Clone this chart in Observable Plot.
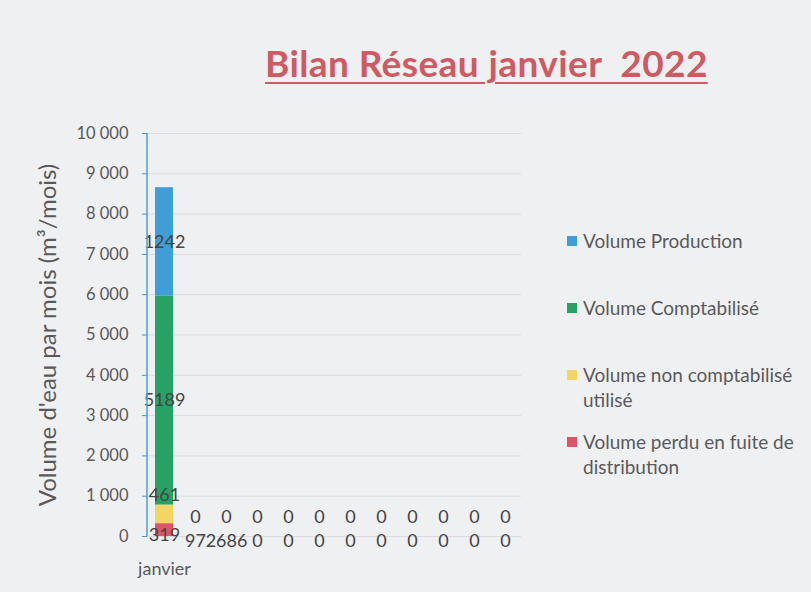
<!DOCTYPE html>
<html>
<head>
<meta charset="utf-8">
<script src="https://cdn.jsdelivr.net/npm/d3@7"></script>
<script src="https://cdn.jsdelivr.net/npm/@observablehq/plot@0.6"></script>
<style>
  html, body { margin: 0; padding: 0; background: #eff0f2; }
  #wrap { position: relative; width: 811px; height: 592px; overflow: hidden; font-family: Lato, "Open Sans", sans-serif; background: #eff0f2; }
  #title { position: absolute; left: 265px; top: 40px; font-size: 37px; letter-spacing: 0.4px; font-weight: bold; color: #cf5a61;
           text-decoration: underline; text-decoration-thickness: 2px; text-underline-offset: 5px; white-space: pre; }
  #chart { position: absolute; left: 0; top: 0; }
  .lg { position: absolute; left: 567px; width: 244px; font-size: 19px; line-height: 25px; color: #5a5a5a; }
  .lg .sw { position: absolute; left: 0; top: 8px; width: 10px; height: 10px; }
  .lg .tx { margin-left: 16px; width: 226px; }
</style>
</head>
<body>
<div id="wrap">
  <div id="title"></div>
  <div id="chart"></div>
  <div id="legend"></div>
</div>
<script>
// ---- data ----
const chartTitle = "Bilan Réseau janvier  2022";
const yLabel = "Volume d'eau par mois (m³/mois)";
const months = ["janvier","février","mars","avril","mai","juin","juillet","août","septembre","octobre","novembre","décembre"];
const monthTickLabels = ["janvier","","","","","","","","","","",""];
// stack order, bottom to top
const seriesNames = ["Volume perdu en fuite de distribution","Volume non comptabilisé utilisé","Volume Comptabilisé","Volume Production"];
const seriesColors = ["#de5466","#f3d564","#27a265","#3d9ed8"];
const legendOrder = ["Volume Production","Volume Comptabilisé","Volume non comptabilisé utilisé","Volume perdu en fuite de distribution"];

const volumePerdu           = [319,0,0,0,0,0,0,0,0,0,0,0];
const volumeNonComptabilise = [461,0,0,0,0,0,0,0,0,0,0,0];
const volumeComptabilise    = [5189,0,0,0,0,0,0,0,0,0,0,0];
const volumeProduction      = [2686,0,0,0,0,0,0,0,0,0,0,0];

const labelsPerdu           = ["319","97","2686","0","0","0","0","0","0","0","0","0"];
const labelsNonComptabilise = ["461","0","0","0","0","0","0","0","0","0","0","0"];
const labelsComptabilise    = ["5189","","","","","","","","","","",""];
const labelsProduction      = ["1242","","","","","","","","","","",""];

const yTicks = [0,1000,2000,3000,4000,5000,6000,7000,8000,9000,10000];

// ---- build table ----
const seriesValues = [volumePerdu, volumeNonComptabilise, volumeComptabilise, volumeProduction];
const seriesLabels = [labelsPerdu, labelsNonComptabilise, labelsComptabilise, labelsProduction];
const rows = [];
months.forEach((m, i) => {
  let acc = 0;
  seriesNames.forEach((s, k) => {
    const v = seriesValues[k][i];
    rows.push({month: m, series: s, value: v, y1: acc, y2: acc + v, label: seriesLabels[k][i]});
    acc += v;
  });
});
const bySeries = k => rows.filter(d => d.series === seriesNames[k]);
const mid = d => (d.y1 + d.y2) / 2;
const fmt = d => d3.format(",")(d).replace(/,/g, " ");

document.getElementById("title").textContent = chartTitle;

const labelStyle = {fontSize: 18, fill: "#454545"};
const chart = Plot.plot({
  width: 560,
  height: 592,
  marginLeft: 147,
  marginRight: 39,
  marginTop: 133,
  marginBottom: 56,
  style: {fontFamily: "Lato, 'Open Sans', sans-serif", background: "transparent", color: "#595959"},
  x: {type: "band", domain: months, paddingInner: 0.43, paddingOuter: 0.2},
  y: {domain: [0, 10000]},
  color: {domain: seriesNames, range: seriesColors},
  marks: [
    Plot.gridY(yTicks, {stroke: "#dadbde", strokeOpacity: 1}),
    Plot.barY(rows, {x: "month", y1: "y1", y2: "y2", fill: "series"}),
    Plot.axisY({ticks: yTicks, tickFormat: fmt, tickSize: 5, tickPadding: 14, fontSize: 16.5, stroke: "#4a8fc8", fill: "#595959", label: null}),
    Plot.axisX({tickSize: 0, tickPadding: 26, fontSize: 18, fill: "#595959", label: null,
                tickFormat: d => monthTickLabels[months.indexOf(d)]}),
    Plot.text([yLabel], {frameAnchor: "left", textAnchor: "middle", dx: -99, rotate: -90, fontSize: 24, fill: "#595959"}),
    Plot.text(bySeries(0), {x: "month", y: mid, text: "label", dy: 5, ...labelStyle}),
    Plot.text(bySeries(1), {x: "month", y: mid, text: "label", dy: -19, ...labelStyle}),
    Plot.text(bySeries(2), {x: "month", y: mid, text: "label", ...labelStyle}),
    Plot.text(bySeries(3), {x: "month", y: mid, text: "label", ...labelStyle})
  ]
});

// blue vertical axis line at the left edge of the x range
const sx = chart.scale("x"), sy = chart.scale("y");
d3.select(chart).append("line")
  .attr("x1", sx.range[0]).attr("x2", sx.range[0])
  .attr("y1", sy.range[0]).attr("y2", sy.range[1])
  .attr("stroke", "#4a9fd8").attr("stroke-width", 1.5);

document.getElementById("chart").appendChild(chart);

// legend
const wrap = document.getElementById("wrap");
legendOrder.forEach((name, i) => {
  const k = seriesNames.indexOf(name);
  const item = document.createElement("div");
  item.className = "lg";
  item.style.top = (228 + i * 67) + "px";
  const sw = document.createElement("div");
  sw.className = "sw";
  sw.style.background = seriesColors[k];
  const tx = document.createElement("div");
  tx.className = "tx";
  tx.textContent = name;
  item.appendChild(sw); item.appendChild(tx);
  wrap.appendChild(item);
});
</script>
</body>
</html>
